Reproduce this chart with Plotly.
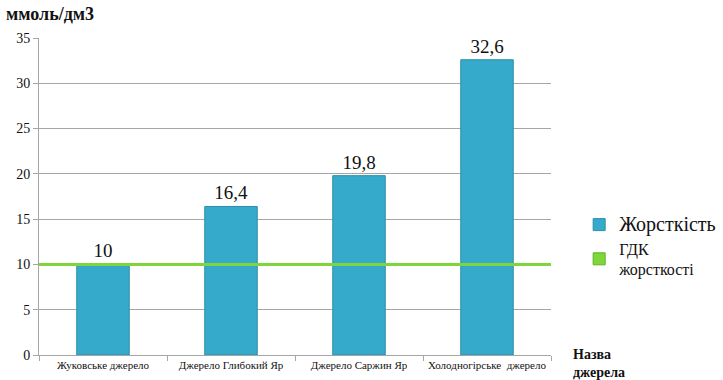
import plotly.graph_objects as go

# Джерела та показник загальної жорсткості води
sources = ["Жуковське джерело", "Джерело Глибокий Яр", "Джерело Саржин Яр", "Холодногірське  джерело"]
hardness = [10, 16.4, 19.8, 32.6]
limit_value = 10  # ГДК жорсткості, ммоль/дм3
y_ticks = [0, 5, 10, 15, 20, 25, 30, 35]

serif = "Liberation Serif"
bar_color = "#35AACB"
limit_color = "#7ED63A"

fig = go.Figure()

fig.add_trace(go.Bar(
    x=sources,
    y=hardness,
    name="<span style='font-size:20px'>Жорсткість</span>",
    marker=dict(color=bar_color, line=dict(color="#2B8FAB", width=1)),
    text=[f"{v:g}".replace(".", ",") for v in hardness],
    textposition="outside",
    textfont=dict(family=serif, size=19, color="#111111"),
    cliponaxis=False,
))

# Legend entry for the limit line (the line itself is a shape)
fig.add_trace(go.Bar(
    x=[sources[0]],
    y=[None],
    name="<span style='font-size:16px'>ГДК<br>жорсткості</span>",
    marker=dict(color=limit_color, line=dict(color="#5DB22A", width=1)),
    showlegend=True,
    hoverinfo="skip",
))

fig.add_shape(
    type="line", xref="paper", yref="y",
    x0=0, x1=1, y0=limit_value, y1=limit_value,
    line=dict(color=limit_color, width=3),
    layer="above",
)

fig.update_layout(
    width=723, height=380,
    margin=dict(l=39, r=172, t=38, b=25, autoexpand=False),
    paper_bgcolor="white",
    plot_bgcolor="white",
    font=dict(family=serif, color="#111111"),
    bargap=0.59,
    barmode="overlay",
    showlegend=True,
    legend=dict(
        x=1.055, y=0.34, xanchor="left", yanchor="middle",
        font=dict(family=serif, size=16, color="#111111"),
        tracegroupgap=24,
        itemwidth=30,
        bgcolor="rgba(0,0,0,0)",
    ),
    annotations=[
        dict(text="<b>ммоль/дм3</b>", xref="paper", yref="paper",
             x=-0.068, y=1.075, xanchor="left", yanchor="middle",
             showarrow=False, font=dict(family=serif, size=18, color="#111111")),
        dict(text="<b>Назва<br>джерела</b>", xref="paper", yref="paper",
             x=1.04, y=-0.086, xanchor="left", yanchor="bottom", align="left",
             showarrow=False, font=dict(family=serif, size=14, color="#111111")),
    ],
)

fig.update_yaxes(
    range=[0, 35],
    tickvals=y_ticks,
    showgrid=True, gridcolor="#A6A6A6", gridwidth=1,
    showline=True, linecolor="#A6A6A6", linewidth=1,
    ticks="outside", ticklen=5, tickcolor="#A6A6A6",
    tickfont=dict(family=serif, size=14, color="#111111"),
    zeroline=False,
)

fig.update_xaxes(
    showline=True, linecolor="#A6A6A6", linewidth=1,
    ticks="outside", ticklen=5, tickcolor="#A6A6A6",
    tickson="boundaries",
    tickangle=0,
    tickfont=dict(family=serif, size=11, color="#111111"),
)

fig.write_html("out.html")
